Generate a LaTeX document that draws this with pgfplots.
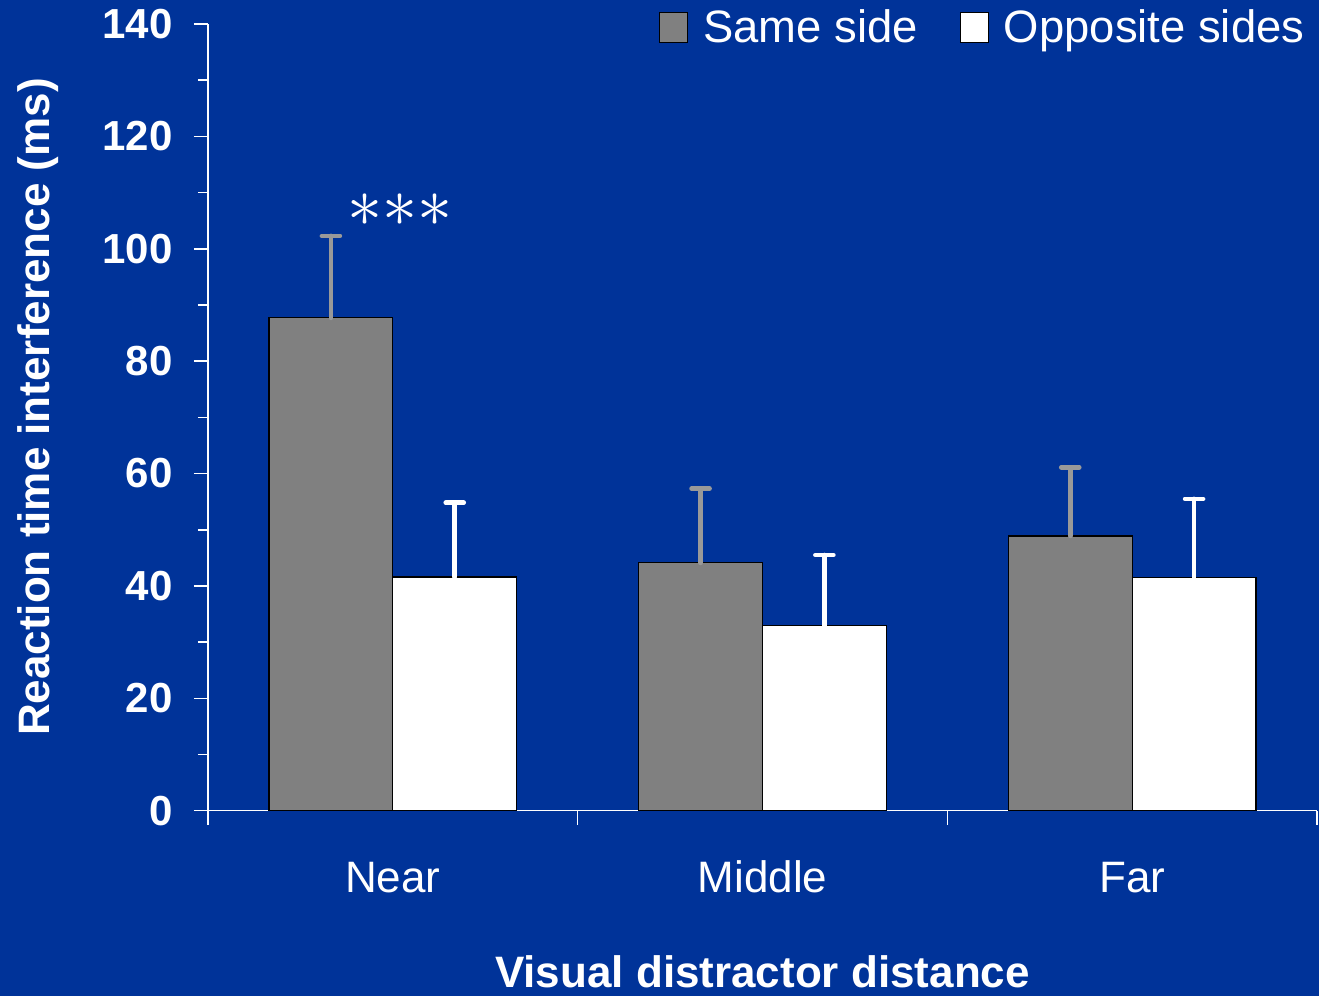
\documentclass[border=0pt]{standalone}
\usepackage{pgfplots}
\pgfplotsset{compat=1.18}
\usepackage{fontspec}
\setmainfont{Liberation Sans}
\definecolor{bgblue}{RGB}{0,51,153}
\definecolor{bargray}{RGB}{128,128,128}
\definecolor{errgray}{RGB}{153,153,153}
\begin{document}
\begin{tikzpicture}
\fill[bgblue] (0,0) rectangle (659.5pt,498pt);
\begin{axis}[
  at={(104pt,92.65pt)}, anchor=south west,
  scale only axis, width=554.5pt, height=393.35pt,
  xmin=0, xmax=3, ymin=0, ymax=140,
  axis x line*=bottom, axis y line*=left,
  axis line style={white, line width=0.8pt, -},
  tick style={white, line width=0.8pt},
  tick align=outside,
  major tick length=7pt, minor tick length=5pt,
  ytick={0,20,...,140}, minor y tick num=1,
  xtick={0,1,2,3}, xticklabels={},
  extra x ticks={0.5,1.5,2.5},
  extra x tick labels={Near,Middle,Far},
  extra x tick style={tick style={draw=none}},
  /pgf/number format/assume math mode=true,
  yticklabel style={text=white, font=\bfseries\fontsize{21}{25}\selectfont, anchor=east, inner sep=0pt, xshift=-10.5pt},
  xticklabel style={text=white, font=\fontsize{22}{26}\selectfont, anchor=base, inner sep=0pt, yshift=-33.8pt},
  ylabel={Reaction time interference (ms)},
  ylabel style={at={(axis description cs:-0.1533,0.513)}, anchor=center, text=white, font=\bfseries\fontsize{22}{26}\selectfont},
  xlabel={Visual distractor distance},
  xlabel style={at={(axis description cs:0.5,-0.2249)}, anchor=base, text=white, font=\bfseries\fontsize{22}{26}\selectfont},
  ybar=0pt, bar width=0.335,
  legend columns=2,
  legend style={at={(axis description cs:0.9925,1.024)}, anchor=north east, draw=none, fill=none, text=white, font=\fontsize{22.7}{26}\selectfont, inner sep=0pt,
    /tikz/every odd column/.append style={column sep=5.5pt},
    /tikz/every even column/.append style={column sep=19pt}},
  legend image code/.code={\draw[#1] (0pt,-7.5pt) rectangle (14pt,7.5pt);},
]
\addplot[fill=bargray, draw=black, line width=0.6pt,
  error bars/.cd, y dir=plus, y explicit,
  error bar style={errgray, line width=2.3pt, line cap=round},
  error mark options={rotate=90, errgray, line width=2.3pt, line cap=round, mark size=4.5pt}]
  coordinates {(0.5,87.7) +- (0,14.6) (1.5,44.1) +- (0,13.2) (2.5,48.9) +- (0,12.2)};
\addlegendentry{Same side}
\addplot[fill=white, draw=black, line width=0.6pt,
  error bars/.cd, y dir=plus, y explicit,
  error bar style={white, line width=2.3pt, line cap=round},
  error mark options={rotate=90, white, line width=2.3pt, line cap=round, mark size=4.5pt}]
  coordinates {(0.5,41.6) +- (0,13.2) (1.5,32.9) +- (0,12.6) (2.5,41.5) +- (0,14.0)};
\addlegendentry{Opposite sides}
\node[text=white, font=\fontsize{24.88}{28}\selectfont, scale=1.41, transform shape, inner sep=0pt] at (axis cs:0.519,106.8) {${\ast}{\ast}{\ast}$};
\end{axis}
\pgfresetboundingbox
\useasboundingbox (0,0) rectangle (659.5pt,498pt);
\end{tikzpicture}
\end{document}
